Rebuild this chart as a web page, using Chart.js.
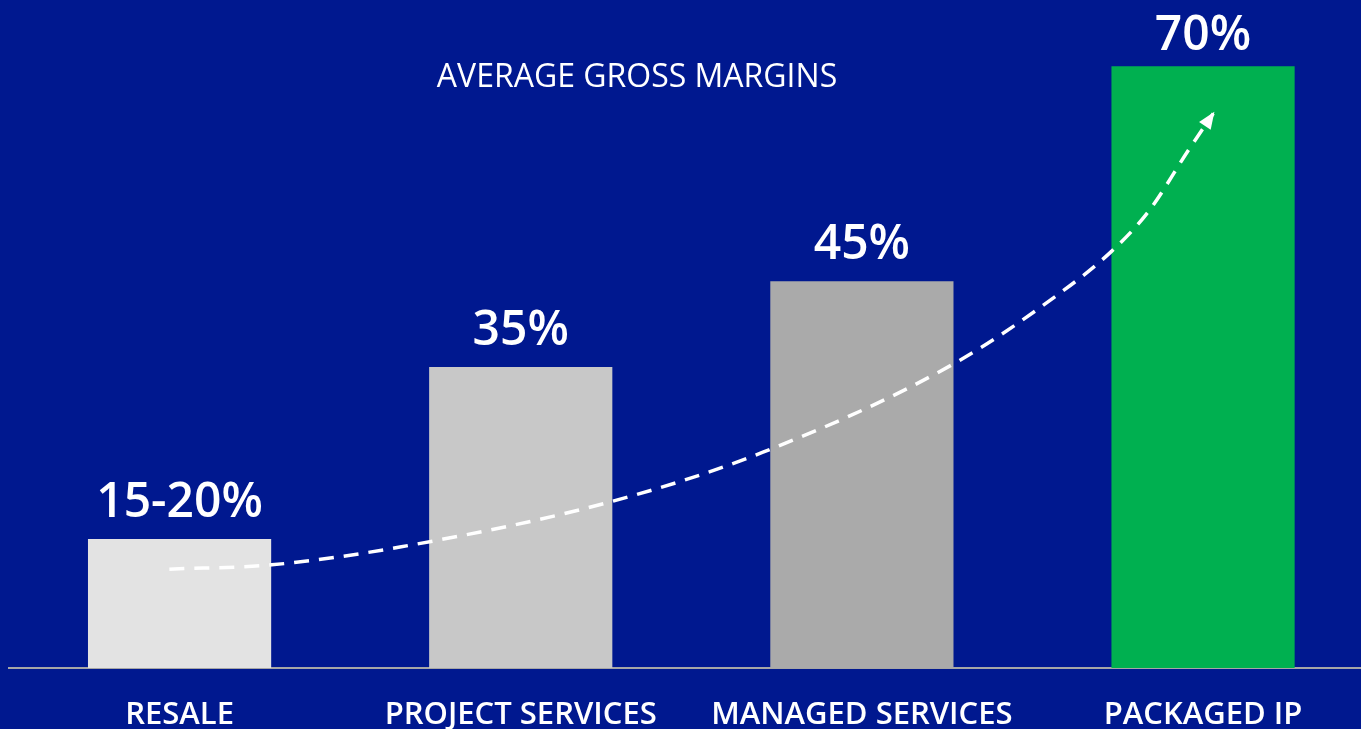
<!DOCTYPE html>
<html>
<head>
<meta charset="utf-8">
<script src="https://cdn.jsdelivr.net/npm/chart.js@4.4.1/dist/chart.umd.min.js"></script>
<style>
  html, body { margin: 0; padding: 0; background: #00188F; overflow: hidden; }
  canvas { display: block; }
</style>
</head>
<body>
<canvas id="chart" width="1361" height="729"></canvas>
<script>
// Chart data
const categories = ['RESALE', 'PROJECT SERVICES', 'MANAGED SERVICES', 'PACKAGED IP'];
const margins = [15, 35, 45, 70];
const marginLabels = ['15-20%', '35%', '45%', '70%'];
const barColors = ['#E3E3E3', '#C8C8C8', '#AAAAAA', '#00B050'];

// Dashed trend curve (x in category units, y in %)
const trendX = [-0.03, 0.27, 0.65, 1.26, 1.71, 2.27, 2.57, 2.73, 2.84, 2.96, 3.03];
const trendY = [11.5, 12.0, 14.1, 19.3, 25.1, 35.4, 43.3, 48.4, 53.1, 60.4, 64.5];

const chartTitle = 'AVERAGE GROSS MARGINS';

// Labels above bars + title + arrow head
const overlayPlugin = {
    id: 'overlay',
    afterDatasetsDraw(chart) {
        const ctx = chart.ctx;
        ctx.save();

        // value labels
        const bars = chart.getDatasetMeta(0).data;
        ctx.fillStyle = '#ffffff';
        ctx.textAlign = 'center';
        ctx.textBaseline = 'alphabetic';
        ctx.font = '600 48px "Open Sans"';
        bars.forEach((bar, i) => {
            ctx.fillText(marginLabels[i], bar.x, Math.max(bar.y - 22, 50));
        });

        // title
        ctx.font = '500 32px "Open Sans"';
        ctx.textBaseline = 'middle';
        ctx.fillText(chartTitle, 637, 78);

        // arrow head at end of curve
        const pts = chart.getDatasetMeta(1).data;
        const tip = pts[pts.length - 1];
        const prev = pts[pts.length - 2];
        const ang = Math.atan2(tip.y - prev.y, tip.x - prev.x);
        const len = 15, half = 7;
        ctx.translate(tip.x, tip.y);
        ctx.rotate(ang);
        ctx.beginPath();
        ctx.moveTo(2, 0);
        ctx.lineTo(-len, -half);
        ctx.lineTo(-len, half);
        ctx.closePath();
        ctx.fill();

        ctx.restore();
    }
};

const ctx = document.getElementById('chart').getContext('2d');
const chart = new Chart(ctx, {
    type: 'bar',
    data: {
        datasets: [
            {
                type: 'bar',
                data: margins.map((v, i) => ({ x: i, y: v })),
                backgroundColor: barColors,
                borderWidth: 0,
                barPercentage: 0.537,
                categoryPercentage: 1,
                order: 2
            },
            {
                type: 'line',
                data: trendX.map((x, i) => ({ x: x, y: trendY[i] })),
                borderColor: '#ffffff',
                borderWidth: 3.5,
                borderDash: [15, 10],
                cubicInterpolationMode: 'monotone',
                pointRadius: 0,
                fill: false,
                order: 1
            }
        ]
    },
    options: {
        responsive: false,
        animation: false,
        layout: {
            padding: { left: 9, right: 0, top: 0, bottom: 0 }
        },
        plugins: {
            legend: { display: false },
            tooltip: { enabled: false },
            title: { display: false }
        },
        scales: {
            x: {
                type: 'linear',
                offset: false,
                min: -0.5,
                max: 3.463,
                afterBuildTicks: axis => {
                    axis.ticks = categories.map((c, i) => ({ value: i }));
                },
                afterFit: axis => {
                    axis.height = 61;
                },
                ticks: {
                    color: '#ffffff',
                    font: { family: 'Open Sans', size: 31, weight: '600' },
                    padding: 29,
                    maxRotation: 0,
                    autoSkip: false,
                    callback: value => categories[value]
                },
                grid: { display: false, drawTicks: false, offset: false },
                border: { color: '#A6A6A6', width: 2 }
            },
            y: {
                display: false,
                min: 0,
                max: 77.7
            }
        }
    },
    plugins: [overlayPlugin]
});
</script>
</body>
</html>
